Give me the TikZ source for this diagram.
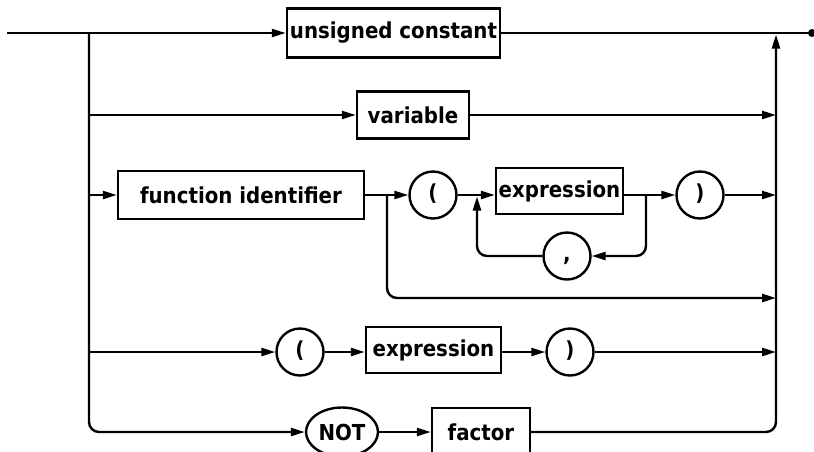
\documentclass[tikz,border=0pt]{standalone}
\usepackage{fontspec}
\setmainfont{DejaVu Sans Condensed}
\usetikzlibrary{arrows.meta,shapes.geometric}
\tikzset{
  wire/.style={line width=2.4pt},
  flow/.style={wire,-{Triangle[length=14pt,width=8pt]}},
  lbl/.style={font=\bfseries\fontsize{22}{26}\selectfont},
  termbox/.style={draw,line width=2.4pt,rectangle,inner sep=0pt,lbl},
  termcirc/.style={draw,line width=2.4pt,circle,inner sep=0pt,minimum size=47pt,lbl,text height=15pt,text depth=5pt},
}
\begin{document}
\begin{tikzpicture}[x=1pt,y=-1pt]
\useasboundingbox (0,0) rectangle (814,451);
% coordinates
\coordinate (S) at (7,33);
\coordinate (E) at (812,33);
\coordinate (L1) at (89,33);
\coordinate (R1) at (776,33);
\coordinate (B) at (387,195);
\coordinate (J1) at (477,195);
\coordinate (J2) at (646,195);
\coordinate (byp) at (776,298);
% nodes
\node[termbox,minimum width=213pt,minimum height=49pt] (uc) at (393.5,33) {unsigned constant};
\node[termbox,minimum width=112pt,minimum height=47pt] (var) at (413,115) {variable};
\node[termbox,minimum width=246pt,minimum height=48pt] (fi) at (241,195) {function identifier};
\node[termcirc] (lp) at (433,195) {(};
\node[termbox,minimum width=127pt,minimum height=46pt] (ex1) at (559.5,191) {expression};
\node[termcirc] (cm) at (567,256) {,};
\node[termcirc] (rp) at (700,195) {)};
\node[termcirc] (lp2) at (300,352) {(};
\node[termbox,minimum width=135pt,minimum height=46pt] (ex2) at (433.5,350) {expression};
\node[termcirc] (rp2) at (570,352) {)};
\node[draw,line width=2.4pt,ellipse,inner sep=0pt,minimum width=72pt,minimum height=49pt,lbl] (nt) at (342,432) {NOT};
\node[termbox,minimum width=98pt,minimum height=48pt] (fac) at (481,432) {factor};
% main line
\draw[flow] (S) -- (uc.west);
\draw[wire] (uc.east) -- (E);
\fill (E) circle (4pt);
% left rail
\draw[flow,rounded corners=10pt] (L1) |- (nt.west);
\draw[flow] (var.west -| L1) -- (var.west);
\draw[flow] (fi.west -| L1) -- (fi.west);
\draw[flow] (lp2.west -| L1) -- (lp2.west);
% right rail
\draw[flow,rounded corners=10pt,shorten >=1.5pt] (fac.east) -| (R1);
\draw[flow] (var.east) -- (var.east -| R1);
\draw[flow] (rp.east) -- (rp.east -| R1);
\draw[flow] (rp2.east) -- (rp2.east -| R1);
% function row
\draw[flow] (fi.east) -- (lp.west);
\draw[flow,rounded corners=10pt] (B) |- (byp);
\draw[flow] (lp.east) -- (ex1.west |- lp.east);
\draw[flow] (ex1.east |- rp.west) -- (rp.west);
\draw[flow,rounded corners=10pt] (J2) |- (cm.east);
\draw[flow,rounded corners=10pt,shorten >=1.5pt] (cm.west) -| (J1);
% paren row
\draw[flow] (lp2.east) -- (ex2.west |- lp2.east);
\draw[flow] (ex2.east |- rp2.west) -- (rp2.west);
% NOT row
\draw[flow] (nt.east) -- (fac.west);
\end{tikzpicture}
\end{document}
